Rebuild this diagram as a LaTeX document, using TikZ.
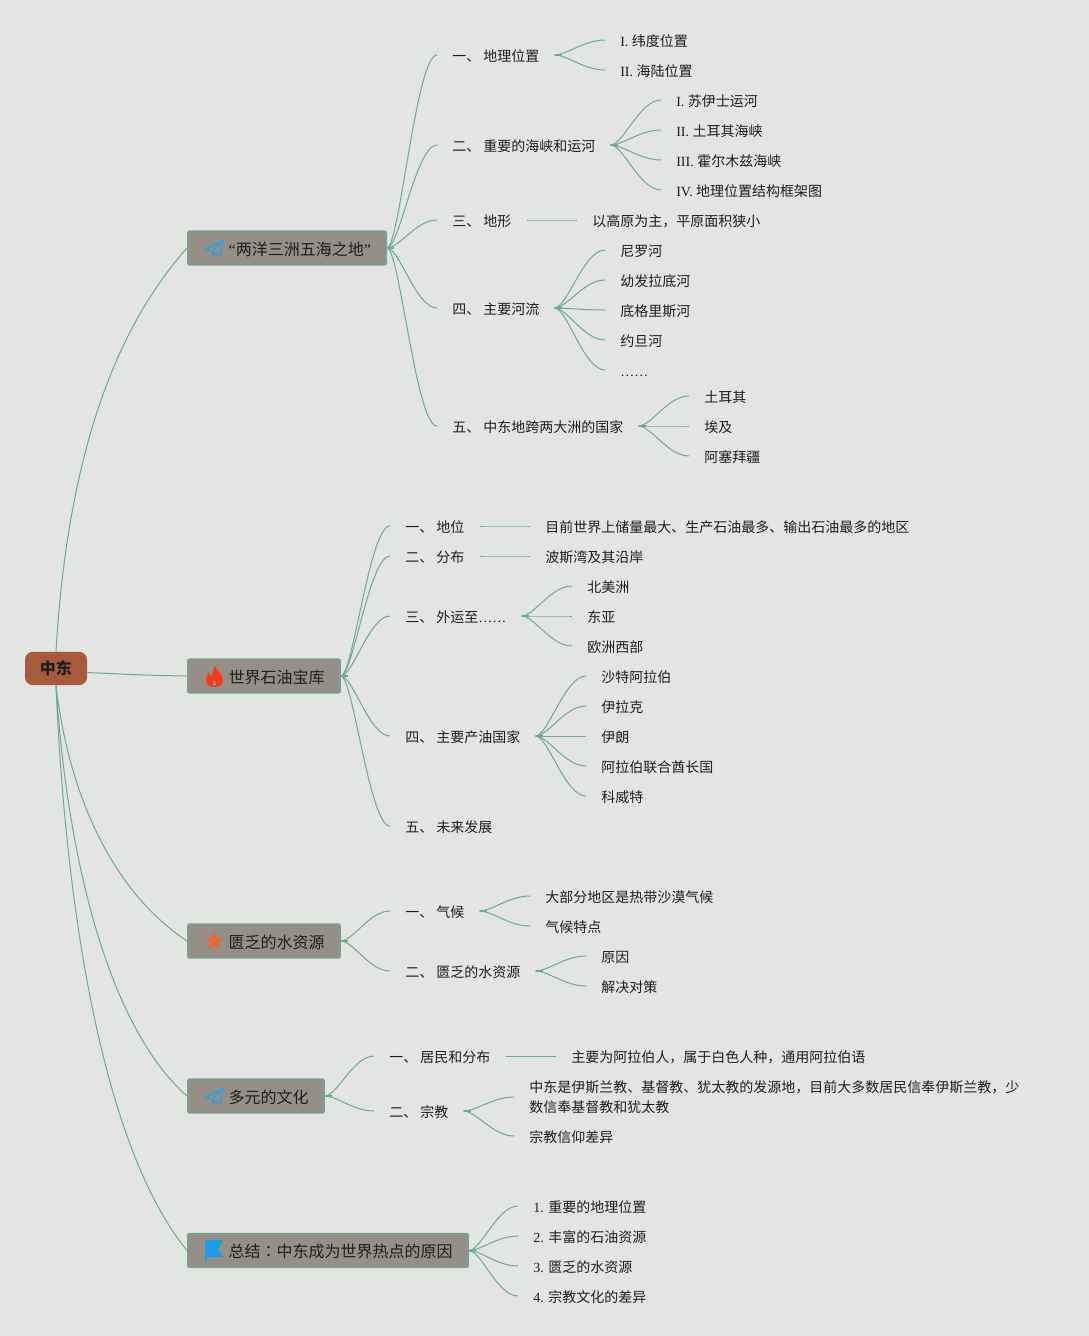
\documentclass[tikz,border=0pt]{standalone}
\usepackage{fontspec}
\setmainfont{Noto Sans CJK SC}
\newfontfamily\lat{Liberation Serif}
\newfontfamily\cjktc{Noto Sans CJK TC}
\usetikzlibrary{calc,shapes.geometric}
\definecolor{bgc}{HTML}{E2E5E2}
\definecolor{linec}{HTML}{6FA797}
\definecolor{boxc}{HTML}{968F87}
\definecolor{rootc}{HTML}{A85B3C}
\definecolor{txtc}{HTML}{1E1E1E}
\definecolor{planec}{HTML}{3D9BD0}
\definecolor{flamec}{HTML}{F53A1A}
\definecolor{starc}{HTML}{E8683A}
\definecolor{flagc}{HTML}{1C9BE6}
\tikzset{
  link/.style={draw=linec,line width=0.75pt,to path={let \p1=(\tikztostart),\p2=(\tikztotarget) in
    .. controls (\x1+0.25*\x2-0.25*\x1,\y1) and (\x1+0.58*\x2-0.58*\x1,\y2) .. (\p2)}},
  rootlink/.style={draw=linec,line width=0.75pt},
  stemline/.style={draw=linec,line width=1.5pt},
  item/.style={anchor=west,inner xsep=11.25pt,inner ysep=0pt,text=txtc,
    font=\fontsize{10.5}{15}\selectfont,text height=11pt,text depth=1.5pt},
  topbox/.style={anchor=west,draw=linec,fill=boxc,line width=1.1pt,rounded corners=1pt,text=txtc,
    inner xsep=11.5pt,inner ysep=0pt,minimum height=25.5pt,font=\fontsize{12}{14}\selectfont,
    text height=12.5pt,text depth=2pt},
  rootbox/.style={fill=rootc,rounded corners=6pt,text=txtc,minimum width=46.5pt,minimum height=25pt,
    inner sep=0pt,font=\fontsize{12}{14}\selectfont\bfseries},
  planeicon/.pic={
    \draw[planec,line width=1.3pt,line join=round]
      (9,-8) -- (-8,1) -- (-2,4) -- (9,-8) -- (6,8) -- (-1,4) -- (-1,8) -- (2,6);
  }
}
\newcommand\boxtxt[1]{\hspace*{19.25pt}#1}
\newcommand\fan[2]{\draw[stemline] (#1.east) -- ++(7,0);
  \foreach \c in {#2} {\draw[link] (#1.east) to (\c.west);}}
\begin{document}
\begin{tikzpicture}[x=0.75pt,y=-0.75pt]
\fill[bgc] (0,0) rectangle (1089,1336);
\useasboundingbox (0,0) rectangle (1089,1336);

\node[rootbox] (root) at (56,668.5) {中东};
\node[topbox] (A) at (187,248) {\boxtxt{{\lat “}两洋三洲五海之地{\lat ”}}};
\node[topbox] (B) at (187,676) {\boxtxt{世界石油宝库}};
\node[topbox] (C) at (187,941) {\boxtxt{匮乏的水资源}};
\node[topbox] (D) at (187,1096) {\boxtxt{多元的文化}};
\node[topbox] (E) at (187,1250.5) {\boxtxt{总结{\cjktc ：}中东成为世界热点的原因}};

% icons
\pic at (214,248) {planeicon};
\pic at (214,1096) {planeicon};
\fill[flamec,even odd rule] (215,666) .. controls (216,671) and (223,673) .. (223,680)
  .. controls (223,685) and (219,687) .. (214,687) .. controls (209,687) and (206,684) .. (206,680)
  .. controls (206,676) and (208,674) .. (209,672) .. controls (210,675) and (211,676) .. (212,676)
  .. controls (213,672) and (213,669) .. (215,666) -- cycle
  (214.5,680) .. controls (215,682) and (217,683) .. (216.5,685) .. controls (215.5,686) and (213,686) .. (212.5,685)
  .. controls (212,683) and (214,682) .. (214.5,680) -- cycle;
\node[star,star points=5,star point ratio=2.4,fill=starc,inner sep=0pt,minimum size=15pt] (staricon) at (214,941.5) {};
\fill[flagc] (205,1240) -- (223,1240) -- (218,1249) -- (223,1257) -- (207,1257) -- (207,1262) -- (205,1262) -- cycle;

% A
\node[item] (a1) at (437,55) {一、\hspace{2.25pt}地理位置};
\node[item] (a2) at (437,145) {二、\hspace{2.25pt}重要的海峡和运河};
\node[item] (a3) at (437,220) {三、\hspace{2.25pt}地形};
\node[item] (a4) at (437,308) {四、\hspace{2.25pt}主要河流};
\node[item] (a5) at (437,426) {五、\hspace{2.25pt}中东地跨两大洲的国家};
\node[item] (a11) at (605,40) {{\lat I. }纬度位置};
\node[item] (a12) at (605,70) {{\lat II. }海陆位置};
\node[item] (a21) at (661,100) {{\lat I. }苏伊士运河};
\node[item] (a22) at (661,130) {{\lat II. }土耳其海峡};
\node[item] (a23) at (661,160) {{\lat III. }霍尔木兹海峡};
\node[item] (a24) at (661,190) {{\lat IV. }地理位置结构框架图};
\node[item] (a31) at (577,220) {以高原为主，平原面积狭小};
\node[item] (a41) at (605,250) {尼罗河};
\node[item] (a42) at (605,280) {幼发拉底河};
\node[item] (a43) at (605,310) {底格里斯河};
\node[item] (a44) at (605,340) {约旦河};
\node[item] (a45) at (605,370) {{\lat ……}};
\node[item] (a51) at (689,396) {土耳其};
\node[item] (a52) at (689,426) {埃及};
\node[item] (a53) at (689,456) {阿塞拜疆};
% B
\node[item] (b1) at (390,526) {一、\hspace{2.25pt}地位};
\node[item] (b2) at (390,556) {二、\hspace{2.25pt}分布};
\node[item] (b3) at (390,616) {三、\hspace{2.25pt}外运至{\lat ……}};
\node[item] (b4) at (390,736) {四、\hspace{2.25pt}主要产油国家};
\node[item] (b5) at (390,826) {五、\hspace{2.25pt}未来发展};
\node[item] (b11) at (530,526) {目前世界上储量最大、生产石油最多、输出石油最多的地区};
\node[item] (b21) at (530,556) {波斯湾及其沿岸};
\node[item] (b31) at (572,586) {北美洲};
\node[item] (b32) at (572,616) {东亚};
\node[item] (b33) at (572,646) {欧洲西部};
\node[item] (b41) at (586,676) {沙特阿拉伯};
\node[item] (b42) at (586,706) {伊拉克};
\node[item] (b43) at (586,736) {伊朗};
\node[item] (b44) at (586,766) {阿拉伯联合酋长国};
\node[item] (b45) at (586,796) {科威特};
% C
\node[item] (c1) at (390,911) {一、\hspace{2.25pt}气候};
\node[item] (c2) at (390,971) {二、\hspace{2.25pt}匮乏的水资源};
\node[item] (c11) at (530,896) {大部分地区是热带沙漠气候};
\node[item] (c12) at (530,926) {气候特点};
\node[item] (c21) at (586,956) {原因};
\node[item] (c22) at (586,986) {解决对策};
% D
\node[item] (d1) at (374,1056) {一、\hspace{2.25pt}居民和分布};
\node[item] (d2) at (374,1111) {二、\hspace{2.25pt}宗教};
\node[item] (d11) at (556,1056) {主要为阿拉伯人，属于白色人种，通用阿拉伯语};
\node[item,align=left,text height=,text depth=] (d21) at (514,1097) {中东是伊斯兰教、基督教、犹太教的发源地，目前大多数居民信奉伊斯兰教，少\\数信奉基督教和犹太教};
\node[item] (d22) at (514,1136) {宗教信仰差异};
% E
\node[item] (e1) at (518,1206) {{\lat 1. }重要的地理位置};
\node[item] (e2) at (518,1236) {{\lat 2. }丰富的石油资源};
\node[item] (e3) at (518,1266) {{\lat 3. }匮乏的水资源};
\node[item] (e4) at (518,1296) {{\lat 4. }宗教文化的差异};

% root connectors
\draw[rootlink] (root.north) .. controls (66,480) and (105,340) .. (A.west);
\draw[rootlink] ($(root.east)+(0,4)$) .. controls (120,674) and (150,675.5) .. (B.west);
\draw[rootlink] (root.south) .. controls (68,790) and (110,890) .. (C.west);
\draw[rootlink] (root.south) .. controls (68,870) and (112,1030) .. (D.west);
\draw[rootlink] (root.south) .. controls (66,920) and (105,1150) .. (E.west);

\fan{A}{a1,a2,a3,a4,a5}
\fan{a1}{a11,a12}
\fan{a2}{a21,a22,a23,a24}
\draw[link] (a3.east) to (a31.west);
\fan{a4}{a41,a42,a43,a44,a45}
\fan{a5}{a51,a52,a53}
\fan{B}{b1,b2,b3,b4,b5}
\draw[link] (b1.east) to (b11.west);
\draw[link] (b2.east) to (b21.west);
\fan{b3}{b31,b32,b33}
\fan{b4}{b41,b42,b43,b44,b45}
\fan{C}{c1,c2}
\fan{c1}{c11,c12}
\fan{c2}{c21,c22}
\fan{D}{d1,d2}
\draw[link] (d1.east) to (d11.west);
\fan{d2}{d21,d22}
\fan{E}{e1,e2,e3,e4}
\end{tikzpicture}
\end{document}
